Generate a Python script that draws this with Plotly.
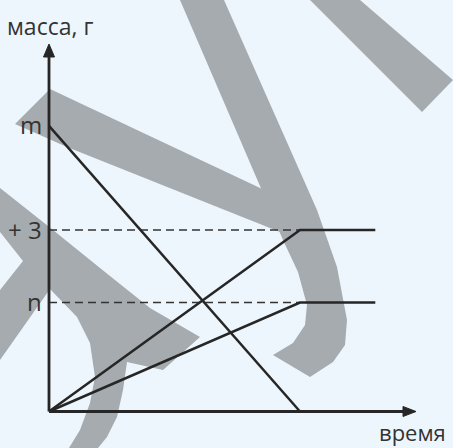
import plotly.graph_objects as go

# ---------------- data ----------------
time_points = [0, 10, 13]          # start, moment the reaction stops, end of observation
mass_n3 = [0, 7.5, 7.5]            # product reaching "n + 3"
mass_n = [0, 4.5, 4.5]             # product reaching "n"
time_m = [0, 10]
mass_m = [11.8, 0]                 # reactant decreasing from m to 0
level_values = [11.8, 7.5, 4.5]
level_labels = ["m", "+ 3", "n"]
x_title = "время"
y_title = "масса, г"

# ---------------- layout helpers (pixel geometry) ----------------
W, H = 453, 448
X0PX, Y0PX = 49, 411.5      # origin position in pixels
XS, YS = 25.1, 24.2         # pixels per unit

def tx(px):
    return (px - X0PX) / XS

def ty(py):
    return (Y0PX - py) / YS

def ppath(points):
    s = ""
    for i, (x, y) in enumerate(points):
        s += ("M" if i == 0 else "L") + f"{x / W:.5f},{1 - y / H:.5f} "
    return s + "Z"

INK = "#262626"
BG = "#eef6fd"
WM = "#a5abae"
FONT = "Open Sans"

fig = go.Figure()

# watermark strokes (decorative background)
wm_polys = [
    # stroke A
    [(15, 124), (50, 89), (275, 195), (300, 240), (67, 147)],
    # stroke B
    [(180, 0), (224, 0), (317, 210), (337, 267), (347, 320), (345, 345), (333, 362),
     (310, 377), (273, 355), (293, 343), (305, 325), (307, 305), (298, 272),
     (283, 240), (263, 193)],
    # stroke C
    [(310, 0), (360, 0), (453, 80), (422, 112)],
    # stroke D (loop)
    [(0, 188), (48, 226), (100, 268), (150, 308), (200, 337), (163, 370), (127, 362),
     (123, 390), (117, 417), (107, 437), (98, 448), (69, 448), (80, 430), (90, 403),
     (95, 377), (90, 343), (77, 317), (50, 289), (0, 360), (0, 290), (23, 261),
     (0, 232)],
]
shapes = []
for poly in wm_polys:
    shapes.append(dict(type="path", path=ppath(poly), xref="paper", yref="paper",
                       fillcolor=WM, line=dict(width=0), layer="below"))

# dashed guide lines
for lv in (mass_n3[1], mass_n[1]):
    fig.add_trace(go.Scatter(x=[0, time_points[1]], y=[lv, lv], mode="lines",
                             line=dict(color="#333333", width=1.5, dash="8px,5px"),
                             hoverinfo="skip", showlegend=False))

# data lines
fig.add_trace(go.Scatter(x=time_points, y=mass_n3, mode="lines",
                         line=dict(color=INK, width=2.5), showlegend=False))
fig.add_trace(go.Scatter(x=time_points, y=mass_n, mode="lines",
                         line=dict(color=INK, width=2.5), showlegend=False))
fig.add_trace(go.Scatter(x=time_m, y=mass_m, mode="lines",
                         line=dict(color=INK, width=2.5), showlegend=False))

# axes with arrows
fig.add_trace(go.Scatter(x=[0, 0], y=[0, ty(57)], mode="lines",
                         line=dict(color=INK, width=2.8), showlegend=False, hoverinfo="skip"))
fig.add_trace(go.Scatter(x=[0, tx(404)], y=[0, 0], mode="lines",
                         line=dict(color=INK, width=2.8), showlegend=False, hoverinfo="skip"))
fig.add_trace(go.Scatter(x=[tx(43.5), tx(49), tx(54.5), tx(43.5)],
                         y=[ty(57), ty(44), ty(57), ty(57)],
                         mode="lines", fill="toself", fillcolor=INK,
                         line=dict(color=INK, width=1), showlegend=False, hoverinfo="skip"))
fig.add_trace(go.Scatter(x=[tx(403), tx(416), tx(403), tx(403)],
                         y=[ty(406.5), ty(411.5), ty(416.5), ty(406.5)],
                         mode="lines", fill="toself", fillcolor=INK,
                         line=dict(color=INK, width=1), showlegend=False, hoverinfo="skip"))

annotations = []
for v, lab in zip(level_values, level_labels):
    annotations.append(dict(x=0, y=v, xref="x", yref="y", text=lab, showarrow=False,
                            xanchor="right", yanchor="middle", xshift=-5, yshift=1,
                            font=dict(family=FONT, size=24, color="#333333")))
annotations.append(dict(x=5 / W, y=1 - 26 / H, xref="paper", yref="paper", text=y_title,
                        showarrow=False, xanchor="left", yanchor="middle",
                        font=dict(family=FONT, size=23, color="#333333")))
annotations.append(dict(x=448 / W, y=1 - 432 / H, xref="paper", yref="paper", text=x_title,
                        showarrow=False, xanchor="right", yanchor="middle",
                        font=dict(family=FONT, size=22, color="#333333")))

fig.update_layout(
    width=W, height=H,
    margin=dict(l=0, r=0, t=0, b=0),
    paper_bgcolor=BG, plot_bgcolor=BG,
    shapes=shapes, annotations=annotations,
    xaxis=dict(range=[tx(0), tx(W)], visible=False, fixedrange=True),
    yaxis=dict(range=[ty(H), ty(0)], visible=False, fixedrange=True),
    showlegend=False,
)

fig.write_html("out.html", config={"displayModeBar": False},
               post_script="document.body.style.margin='0';document.body.style.background='" + BG + "';")
